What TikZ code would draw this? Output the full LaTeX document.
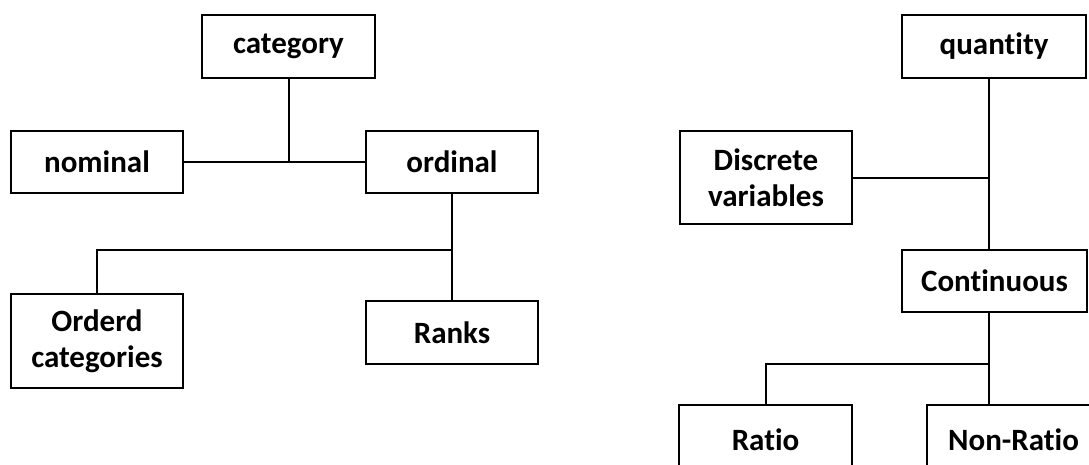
\documentclass[tikz,border=0pt]{standalone}
\usepackage{fontspec}
\setmainfont{Carlito}[Ligatures=CommonOff]
\usepackage{tikz}
\usetikzlibrary{positioning,calc}

\begin{document}
\begin{tikzpicture}[
  x=1pt,y=-1pt,
  font=\fontsize{31}{36}\selectfont\bfseries,
  box/.style={draw=black,line width=2pt,fill=white,
              minimum width=172pt,minimum height=62pt,
              align=center,inner sep=2pt},
  tall/.style={box,minimum height=93pt},
  link/.style={line width=2pt,black},
]
  \clip (0,0) rectangle (1089,464);

  \node[box,minimum width=173pt,minimum height=63pt] (category) at (288.5,46.5) {category};
  \node[box] (nominal) at (97,162) {nominal};
  \node[box] (ordinal) at (452,162) {ordinal};
  \node[tall,minimum height=94pt] (orderd) at (97,341) {Orderd\\categories};
  \node[box,minimum height=63pt] (ranks) at (452,332.5) {Ranks};

  \node[box,minimum width=184pt,minimum height=63pt] (quantity) at (994,46.5) {quantity};
  \node[tall] (discrete) at (766,177.5) {Discrete\\variables};
  \node[box,minimum width=185pt] (continuous) at (994.5,281) {Continuous};
  \node[box,minimum width=173pt,minimum height=70pt] (ratio) at (765.5,440) {Ratio};
  \node[box,minimum width=173pt,minimum height=70pt] (nonratio) at (1013.5,440) {Non-Ratio};

  \coordinate (jl) at (452,250);
  \coordinate (jq) at (989,177);
  \coordinate (jc) at (989,364);

  \draw[link] (nominal.east) -- (ordinal.west);
  \draw[link] (category.south) -- (category.south |- nominal.east);
  \draw[link] (ordinal.south) -- (ranks.north);
  \draw[link] (orderd.north) |- (jl);

  \draw[link] (quantity.south -| jq) -- (continuous.north -| jq);
  \draw[link] (discrete.east) -- (discrete.east -| jq);
  \draw[link] (continuous.south -| jc) -- (nonratio.north -| jc);
  \draw[link] (ratio.north) |- (jc);
\end{tikzpicture}
\end{document}
